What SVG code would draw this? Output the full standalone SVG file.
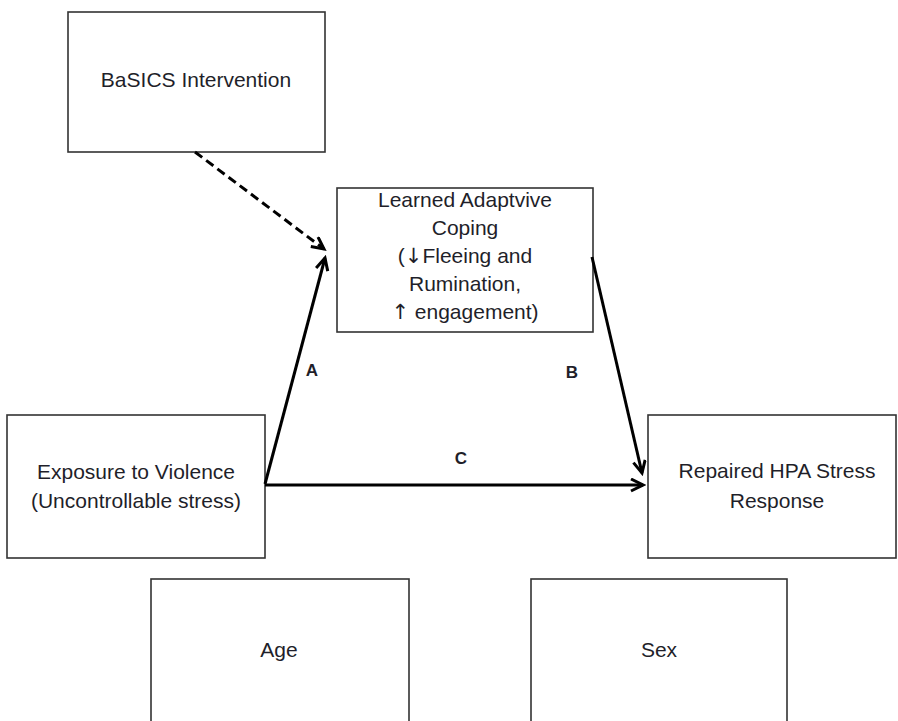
<svg xmlns="http://www.w3.org/2000/svg" width="898" height="721" viewBox="0 0 898 721">
  <style>
    .box { fill: #ffffff; stroke: #333333; stroke-width: 1.6; }
    .t { font-family: "Liberation Sans", Arial, sans-serif; font-size: 21px; fill: #1f1f2a; text-anchor: middle; }
    .ar { font-family: "DejaVu Sans", sans-serif; font-size: 21px; }
    .lbl { font-family: "Liberation Sans", Arial, sans-serif; font-size: 17px; font-weight: bold; fill: #1f1f2a; text-anchor: middle; }
    .conn { stroke: #000000; stroke-width: 3; fill: none; }
    .dash { stroke-dasharray: 9 5; }
  </style>
  <defs>
    <marker id="arrow" markerUnits="userSpaceOnUse" markerWidth="16" markerHeight="16" refX="13" refY="7" orient="auto">
      <path d="M1,1 L13,7 L1,13" fill="none" stroke="#000000" stroke-width="3" stroke-linejoin="miter"/>
    </marker>
  </defs>
  <rect width="898" height="721" fill="#ffffff"/>

  <g id="basics">
    <rect class="box" x="68" y="12" width="257" height="140"/>
    <text class="t" x="196" y="87">BaSICS Intervention</text>
  </g>

  <g id="coping">
    <rect class="box" x="337" y="188" width="256" height="144"/>
    <text class="t" x="465" y="207">Learned Adaptvive</text>
    <text class="t" x="465" y="235">Coping</text>
    <text class="t" x="465" y="263">(<tspan class="ar">↓</tspan>Fleeing and</text>
    <text class="t" x="465" y="291">Rumination,</text>
    <text class="t" x="465" y="319"><tspan class="ar">↑</tspan> engagement)</text>
  </g>

  <g id="exposure">
    <rect class="box" x="7" y="415" width="258" height="143"/>
    <text class="t" x="136" y="479">Exposure to Violence</text>
    <text class="t" x="136" y="508">(Uncontrollable stress)</text>
  </g>

  <g id="hpa">
    <rect class="box" x="648" y="415" width="248" height="143"/>
    <text class="t" x="777" y="478">Repaired HPA Stress</text>
    <text class="t" x="777" y="508">Response</text>
  </g>

  <g id="age">
    <rect class="box" x="151" y="579" width="258" height="160"/>
    <text class="t" x="279" y="657">Age</text>
  </g>

  <g id="sex">
    <rect class="box" x="531" y="579" width="256" height="160"/>
    <text class="t" x="659" y="657">Sex</text>
  </g>

  <g id="connectors">
    <line class="conn dash" x1="195" y1="152" x2="324" y2="249" marker-end="url(#arrow)"/>
    <line class="conn" x1="265" y1="484" x2="325" y2="258" marker-end="url(#arrow)"/>
    <line class="conn" x1="592" y1="257" x2="642" y2="473" marker-end="url(#arrow)"/>
    <line class="conn" x1="265" y1="485" x2="643" y2="485" marker-end="url(#arrow)"/>
    <text class="lbl" x="312" y="376">A</text>
    <text class="lbl" x="572" y="378">B</text>
    <text class="lbl" x="461" y="464">C</text>
  </g>
</svg>
